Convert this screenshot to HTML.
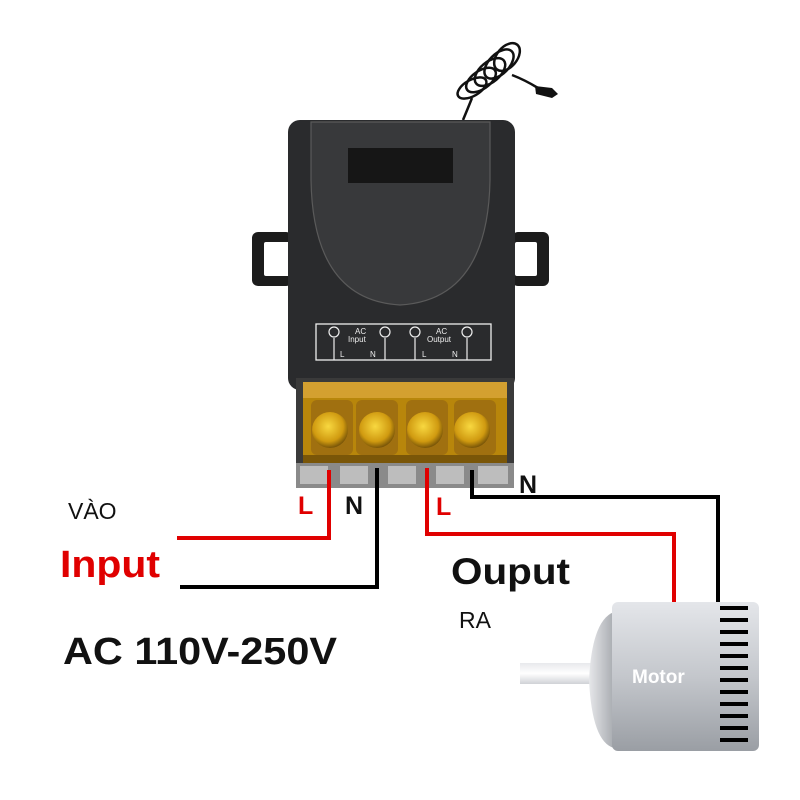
<!DOCTYPE html>
<html><head><meta charset="utf-8"><style>
html,body{margin:0;padding:0;background:#fff}
svg{display:block}
text{font-family:"Liberation Sans",sans-serif}
</style></head><body>
<svg width="800" height="800" viewBox="0 0 800 800" xmlns="http://www.w3.org/2000/svg">
<defs>
<linearGradient id="mot" x1="0" y1="0" x2="0" y2="1">
<stop offset="0" stop-color="#e4e6ea"/><stop offset="0.5" stop-color="#c4c7cc"/><stop offset="1" stop-color="#9a9ea4"/></linearGradient>
<linearGradient id="cap" x1="0" y1="0" x2="1" y2="0">
<stop offset="0" stop-color="#e6e7ea"/><stop offset="1" stop-color="#a8abb0"/></linearGradient>
<linearGradient id="shaft" x1="0" y1="0" x2="0" y2="1">
<stop offset="0" stop-color="#e8e9ec"/><stop offset="0.5" stop-color="#ffffff"/><stop offset="1" stop-color="#d0d2d6"/></linearGradient>
<radialGradient id="scr" cx="0.45" cy="0.4" r="0.6">
<stop offset="0" stop-color="#f8d840"/><stop offset="0.7" stop-color="#d09a10"/><stop offset="1" stop-color="#7a5608"/></radialGradient>
</defs>

<!-- antenna -->
<g fill="none" stroke="#111" stroke-width="2.5">
<path d="M463 120 Q468 108 472 98"/>
<ellipse cx="472" cy="88" rx="16" ry="8" transform="rotate(-30 472 88)"/>
<ellipse cx="481" cy="80" rx="17" ry="9" transform="rotate(-35 481 80)"/>
<ellipse cx="490" cy="72" rx="18" ry="10" transform="rotate(-40 490 72)"/>
<ellipse cx="499" cy="64" rx="18" ry="10" transform="rotate(-45 499 64)"/>
<ellipse cx="507" cy="57" rx="16" ry="10" transform="rotate(-50 507 57)"/>
<path d="M512 75 Q525 80 538 88 Q545 91 550 92"/>
</g>
<path d="M535 86 L552 88 L558 94 L552 98 L536 94Z" fill="#111"/>

<!-- tabs -->
<rect x="252" y="232" width="40" height="54" rx="6" fill="#1c1c1c"/>
<rect x="264" y="242" width="26" height="34" rx="2" fill="#fff"/>
<rect x="512" y="232" width="37" height="54" rx="6" fill="#1c1c1c"/>
<rect x="515" y="242" width="22" height="34" rx="2" fill="#fff"/>

<!-- body -->
<rect x="288" y="120" width="227" height="270" rx="12" fill="#2a2b2d"/>
<path d="M311 122 L490 122 L490 180 Q488 300 400 305 Q313 300 311 180 Z" fill="#38393b" stroke="#5a5a5a" stroke-width="1.2"/>
<rect x="348" y="148" width="105" height="35" fill="#161616"/>
<!-- label strip -->
<rect x="316" y="324" width="175" height="36" fill="none" stroke="#eee" stroke-width="1.3"/>
<g fill="none" stroke="#eee" stroke-width="1.2">
<line x1="334" y1="338" x2="334" y2="360"/><line x1="385" y1="338" x2="385" y2="360"/>
<line x1="415" y1="338" x2="415" y2="360"/><line x1="467" y1="338" x2="467" y2="360"/>
<circle cx="334" cy="332" r="5"/><circle cx="385" cy="332" r="5"/><circle cx="415" cy="332" r="5"/><circle cx="467" cy="332" r="5"/>
</g>
<g fill="#eee" font-size="8"><text x="355" y="334">AC</text><text x="348" y="342">Input</text>
<text x="436" y="334">AC</text><text x="427" y="342">Output</text>
<text x="340" y="357">L</text><text x="370" y="357">N</text><text x="422" y="357">L</text><text x="452" y="357">N</text></g>

<!-- terminal block -->
<rect x="296" y="378" width="218" height="110" fill="#3a3a3a"/>
<rect x="303" y="382" width="204" height="80" fill="#b8860b"/>
<rect x="303" y="382" width="204" height="16" fill="#d4a030"/>
<rect x="303" y="455" width="204" height="8" fill="#7a5608"/>
<g>
<rect x="311" y="400" width="42" height="55" rx="6" fill="#a07010"/>
<rect x="356" y="400" width="42" height="55" rx="6" fill="#a07010"/>
<rect x="406" y="400" width="42" height="55" rx="6" fill="#a07010"/>
<rect x="454" y="400" width="42" height="55" rx="6" fill="#a07010"/>
<circle cx="330" cy="430" r="18" fill="url(#scr)"/>
<circle cx="377" cy="430" r="18" fill="url(#scr)"/>
<circle cx="425" cy="430" r="18" fill="url(#scr)"/>
<circle cx="472" cy="430" r="18" fill="url(#scr)"/>
</g>
<rect x="296" y="463" width="218" height="25" fill="#8a8a8a"/>
<g fill="#bdbdbd"><rect x="300" y="466" width="28" height="18"/><rect x="340" y="466" width="28" height="18"/><rect x="388" y="466" width="28" height="18"/><rect x="436" y="466" width="28" height="18"/><rect x="478" y="466" width="30" height="18"/></g>

<!-- wires -->
<g fill="none" stroke-width="4" stroke-linejoin="miter">
<path d="M177 538 L329 538 L329 470" stroke="#e00000"/>
<path d="M180 587 L377 587 L377 468" stroke="#000"/>
<path d="M427 468 L427 534 L674 534 L674 604" stroke="#e00000"/>
<path d="M472 470 L472 497 L718 497 L718 604" stroke="#000"/>
</g>

<!-- motor -->
<rect x="520" y="663" width="72" height="21" fill="url(#shaft)"/>
<path d="M614 612 Q592 620 589 680 Q592 742 614 748 Z" fill="url(#cap)"/>
<rect x="612" y="602" width="147" height="149" rx="6" fill="url(#mot)"/>
<g fill="#000">
<rect x="720" y="606" width="28" height="4"/><rect x="720" y="618" width="28" height="4"/><rect x="720" y="630" width="28" height="4"/>
<rect x="720" y="642" width="28" height="4"/><rect x="720" y="654" width="28" height="4"/><rect x="720" y="666" width="28" height="4"/>
<rect x="720" y="678" width="28" height="4"/><rect x="720" y="690" width="28" height="4"/><rect x="720" y="702" width="28" height="4"/>
<rect x="720" y="714" width="28" height="4"/><rect x="720" y="726" width="28" height="4"/><rect x="720" y="738" width="28" height="4"/>
</g>
<text x="632" y="683" font-size="19" font-weight="bold" fill="#fff">Motor</text>

<!-- labels -->
<text x="68" y="519" font-size="23" fill="#111">VÀO</text>
<text x="60" y="577" font-size="38" font-weight="bold" fill="#e00000" textLength="100" lengthAdjust="spacingAndGlyphs">Input</text>
<text x="63" y="664" font-size="38" font-weight="bold" fill="#111" textLength="274" lengthAdjust="spacingAndGlyphs">AC 110V-250V</text>
<text x="298" y="514" font-size="25" font-weight="bold" fill="#e00000">L</text>
<text x="345" y="514" font-size="25" font-weight="bold" fill="#111">N</text>
<text x="436" y="515" font-size="25" font-weight="bold" fill="#e00000">L</text>
<text x="519" y="493" font-size="25" font-weight="bold" fill="#111">N</text>
<text x="451" y="584" font-size="37" font-weight="bold" fill="#111" textLength="119" lengthAdjust="spacingAndGlyphs">Ouput</text>
<text x="459" y="628" font-size="23" fill="#111">RA</text>
</svg>
</body></html>
